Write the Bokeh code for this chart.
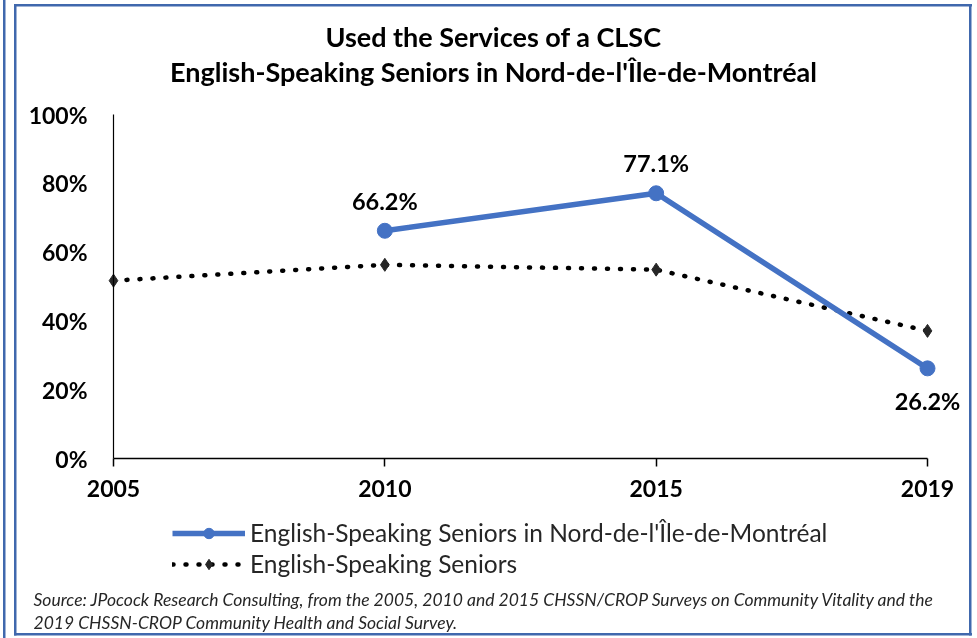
from bokeh.plotting import figure
from bokeh.models import (ColumnDataSource, FixedTicker, Label, LabelSet, Legend,
                          LegendItem, Range1d, PrintfTickFormatter)
from bokeh.core.properties import value
from bokeh.embed import file_html
from bokeh.resources import INLINE

# ---- data ----
years = ["2005", "2010", "2015", "2019"]
region_years = ["2010", "2015", "2019"]
region_values = [66.2, 77.1, 26.2]
all_years = ["2005", "2010", "2015", "2019"]
all_values = [51.7, 56.3, 54.9, 37.1]
y_ticks = [0, 20, 40, 60, 80, 100]
series_names = ["English-Speaking Seniors in Nord-de-l'Île-de-Montréal",
                "English-Speaking Seniors"]
title_lines = ["Used the Services of a CLSC",
               "English-Speaking Seniors in Nord-de-l'Île-de-Montréal"]
source_lines = ["Source: JPocock Research Consulting, from the 2005, 2010  and 2015  CHSSN/CROP Surveys on Community Vitality and the",
                "2019  CHSSN-CROP Community Health and Social Survey."]

BLUE = "#4472C4"
EDGE = "#4068AD"
FONT = "Lato"

pos = {y: i for i, y in enumerate(years)}
region_src = ColumnDataSource(dict(
    x=[pos[y] for y in region_years], y=region_values,
    label=[f"{v:.1f}%" for v in region_values]))
all_src = ColumnDataSource(dict(x=[pos[y] for y in all_years], y=all_values))

# ---- geometry (pixels on the page) ----
VW, VH = 977, 638            # visible area = plot frame
PAD_L, PAD_B = 100, 60       # axis panels, pushed outside the visible area
AX_X0, AX_X1 = 113, 927      # first / last category
AX_Y0, AX_Y100 = 458, 114    # 0% / 100%
ux = (AX_X1 - AX_X0) / (len(years) - 1)
uy = (AX_Y0 - AX_Y100) / 100.0
x_start, x_end = -AX_X0 / ux, (len(years) - 1) + (VW - AX_X1) / ux
y_start, y_end = -(VH - AX_Y0) / uy, 100 + AX_Y100 / uy

def line_css(x, y, w, h):
    return f"linear-gradient({EDGE},{EDGE}) {x + PAD_L}px {y}px / {w}px {h}px no-repeat"

bg = ", ".join([line_css(3, 0, 2.5, VH),
                line_css(13.5, 4, 2.5, 631.5),
                line_css(13.5, 4, 958, 2.5),
                line_css(969, 4, 2.5, 631.5),
                line_css(13.5, 633, 958, 2.5)])

p = figure(width=VW + PAD_L, height=VH + PAD_B, output_backend="svg",
           toolbar_location=None, title=None,
           x_range=Range1d(x_start, x_end), y_range=Range1d(y_start, y_end),
           min_border=0, min_border_left=PAD_L, min_border_right=0,
           min_border_top=0, min_border_bottom=PAD_B,
           styles={"position": "fixed", "left": f"-{PAD_L}px", "top": "0px",
                   "background": bg})
p.border_fill_alpha = 0
p.background_fill_alpha = 0
p.outline_line_color = None
p.xgrid.visible = False
p.ygrid.visible = False

# x axis
xa = p.xaxis[0]
xa.fixed_location = 0
xa.bounds = (0, len(years) - 1)
xa.ticker = FixedTicker(ticks=list(range(len(years))))
xa.major_label_overrides = {i: y for i, y in enumerate(years)}
xa.axis_line_color = "black"
xa.axis_line_width = 1.5
xa.major_tick_out = 8
xa.major_tick_in = 0
xa.major_tick_line_width = 1.5
xa.minor_tick_line_color = None
xa.major_label_standoff = 13
xa.major_label_text_font = FONT
xa.major_label_text_font_style = "bold"
xa.major_label_text_font_size = "23px"
xa.major_label_text_color = "black"

# y axis
ya = p.yaxis[0]
ya.fixed_location = 0
ya.bounds = (0, 100)
ya.ticker = FixedTicker(ticks=y_ticks)
ya.formatter = PrintfTickFormatter(format="%d%%")
ya.axis_line_color = "black"
ya.axis_line_width = 1.2
ya.major_tick_line_color = None
ya.minor_tick_line_color = None
ya.major_tick_out = 0
ya.major_tick_in = 0
ya.major_label_standoff = 26
ya.major_label_text_font = FONT
ya.major_label_text_font_style = "bold"
ya.major_label_text_font_size = "23px"
ya.major_label_text_color = "black"

# series
l2 = p.line("x", "y", source=all_src, line_color="black", line_width=4.5,
            line_dash="1 12", line_cap="round")
s2 = p.scatter("x", "y", source=all_src, marker="diamond", size=13,
               fill_color="#262626", line_color="#262626")
l1 = p.line("x", "y", source=region_src, line_color=BLUE, line_width=5.5)
s1 = p.scatter("x", "y", source=region_src, marker="circle", size=15,
               fill_color=BLUE, line_color=BLUE)

# data labels
n = len(region_values)
above = ColumnDataSource(dict(x=region_src.data["x"][:n - 1], y=region_values[:n - 1],
                              label=region_src.data["label"][:n - 1]))
below = ColumnDataSource(dict(x=region_src.data["x"][n - 1:], y=region_values[n - 1:],
                              label=region_src.data["label"][n - 1:]))
for src, off in ((above, 30), (below, -33)):
    p.add_layout(LabelSet(x="x", y="y", text="label", source=src, y_offset=off,
                          text_align="center", text_baseline="middle",
                          text_font=value(FONT), text_font_style="bold",
                          text_font_size="23.5px", text_color="black"))

# chart title
for txt, yy in zip(title_lines, (36, 71)):
    p.add_layout(Label(x=493, y=VH - yy, x_units="screen", y_units="screen",
                       text=txt, text_align="center", text_baseline="middle",
                       text_font=FONT, text_font_style="bold", text_font_size="27px",
                       text_color="black"))

# source notes
for txt, yy in zip(source_lines, (599, 622)):
    p.add_layout(Label(x=33, y=VH - yy, x_units="screen", y_units="screen",
                       text=txt, text_align="left", text_baseline="middle",
                       text_font=FONT, text_font_style="italic", text_font_size="17.5px",
                       text_color="#262626"))

# legend
legend = Legend(items=[LegendItem(label=series_names[0], renderers=[l1, s1]),
                       LegendItem(label=series_names[1], renderers=[l2, s2])],
                location=(172, 60), orientation="vertical",
                border_line_color=None, background_fill_alpha=0,
                padding=0, margin=0, spacing=2, glyph_width=73, glyph_height=26,
                label_height=26, label_standoff=5,
                label_text_font=FONT, label_text_font_size="24.5px",
                label_text_color="#262626")
p.add_layout(legend)

open("out.html", "w").write(file_html(p, INLINE))
